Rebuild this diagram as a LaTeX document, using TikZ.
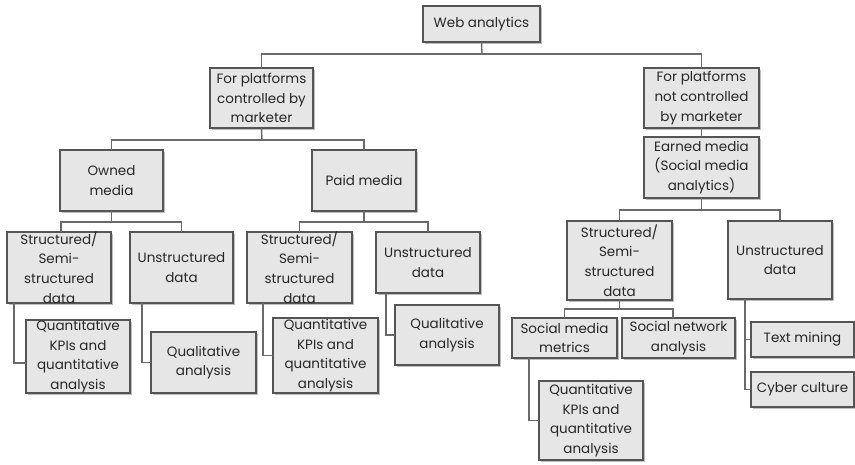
\documentclass[tikz,border=0pt]{standalone}
\usepackage{fontspec}
\setmainfont{Poppins}
\usetikzlibrary{shadows}
\definecolor{boxfill}{HTML}{E6E6E6}
\definecolor{boxline}{HTML}{555555}
\definecolor{conn}{HTML}{6A6A6A}
\newcommand{\bt}[3]{\parbox[c][#2pt][c]{#1pt}{\centering\fontsize{13.5}{19.8}\selectfont #3\par}}
\tikzset{
  box/.style={draw=boxline, line width=1.4pt, fill=boxfill, inner sep=0pt, outer sep=0pt,
    text=black!85, drop shadow={shadow xshift=1.5pt, shadow yshift=-1.5pt, fill=black, opacity=0.25}},
  link/.style={draw=conn, line width=1.4pt}
}
\begin{document}
\begin{tikzpicture}[x=1pt,y=-1pt]
\useasboundingbox (0,0) rectangle (855,464);
% nodes
\node[box] (wa) at (481.5,24) {\bt{117}{36}{Web analytics}};
\node[box] (fpc) at (261.5,98) {\bt{103}{60}{For platforms\\controlled by\\marketer}};
\node[box] (fnc) at (701.5,98) {\bt{115}{60}{For platforms\\not controlled\\by marketer}};
\node[box] (earned) at (701.5,167.5) {\bt{115}{61}{Earned media\\(Social media\\analytics)}};
\node[box] (owned) at (111.5,180.5) {\bt{103}{61}{Owned\\media}};
\node[box] (paid) at (364,180.5) {\bt{104}{61}{Paid media}};
\node[box] (s1) at (59,267.5) {\bt{104}{71}{Structured/\\Semi-\\structured\\data}};
\node[box] (u1) at (181.5,267.5) {\bt{103}{71}{Unstructured\\data}};
\node[box] (q1) at (78,356.5) {\bt{104}{73}{Quantitative\\KPIs and\\quantitative\\analysis}};
\node[box] (ql1) at (203.5,362.5) {\bt{105}{61}{Qualitative\\analysis}};
\node[box] (s2) at (299.5,267.5) {\bt{105}{71}{Structured/\\Semi-\\structured\\data}};
\node[box] (u2) at (428,262.5) {\bt{104}{61}{Unstructured\\data}};
\node[box] (q2) at (325.5,355.5) {\bt{105}{75}{Quantitative\\KPIs and\\quantitative\\analysis}};
\node[box] (ql2) at (447,335) {\bt{104}{60}{Qualitative\\analysis}};
\node[box] (s3) at (619.5,260.5) {\bt{105}{79}{Structured/\\Semi-\\structured\\data}};
\node[box] (u3) at (780,260) {\bt{104}{78}{Unstructured\\data}};
\node[box] (smm) at (564.5,338) {\bt{105}{40}{Social media\\metrics}};
\node[box] (sna) at (678.5,338) {\bt{113}{40}{Social network\\analysis}};
\node[box] (q3) at (591,420.5) {\bt{104}{79}{Quantitative\\KPIs and\\quantitative\\analysis}};
\node[box] (tm) at (802.5,339.5) {\bt{103}{35}{Text mining}};
\node[box] (cc) at (802.5,389.5) {\bt{103}{35}{Cyber culture}};
% junctions
\coordinate (j0) at (482,54);
\coordinate (j1) at (262,140);
\coordinate (j2) at (111.5,222);
\coordinate (j3) at (364,222);
\coordinate (j4) at (701.5,210);
\coordinate (j5) at (619.5,309);
% connectors
\draw[link] (wa.south) -- (j0);
\draw[link] (fpc.north) |- (j0) -| (fnc.north);
\draw[link] (fpc.south) -- (j1);
\draw[link] (owned.north) |- (j1) -| (paid.north);
\draw[link] (fnc.south) -- (earned.north);
\draw[link] (owned.south) -- (j2);
\draw[link] (s1.north -| 61,0) |- (j2) -| (u1.north);
\draw[link] (paid.south) -- (j3);
\draw[link] (s2.north) |- (j3) -| (u2.north);
\draw[link] (s1.south -| 14,0) |- (q1.west |- 0,363);
\draw[link] (u1.south -| 142,0) |- (ql1.west);
\draw[link] (s2.south -| 263,0) |- (q2.west);
\draw[link] (u2.south -| 386,0) |- (ql2.west);
\draw[link] (earned.south) -- (j4);
\draw[link] (s3.north) |- (j4) -| (u3.north);
\draw[link] (s3.south) -- (j5);
\draw[link] (smm.north) |- (j5) -| (sna.north -| 673,0);
\draw[link] (smm.south -| 529,0) |- (q3.west);
\draw[link] (u3.south -| 745,0) |- (cc.west);
\draw[link] (u3.south -| 745,0) |- (tm.west);
\end{tikzpicture}
\end{document}
